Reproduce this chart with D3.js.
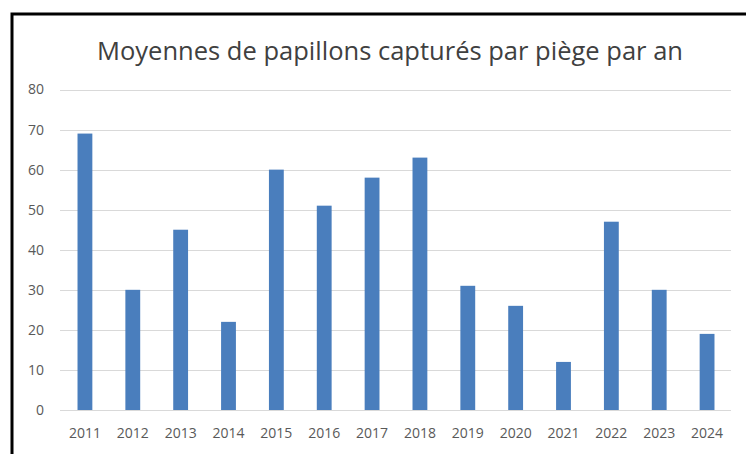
<!DOCTYPE html>
<html><head><meta charset="utf-8">
<script src="https://cdn.jsdelivr.net/npm/d3@7"></script>
<style>html,body{margin:0;padding:0;background:#fff;}svg{display:block;}</style>
</head><body>
<svg id="chart" width="746" height="454"></svg>
<script>
const title = "Moyennes de papillons capturés par piège par an";
const years = ["2011","2012","2013","2014","2015","2016","2017","2018","2019","2020","2021","2022","2023","2024"];
const values = [69,30,45,22,60,51,58,63,31,26,12,47,30,19];
const yTicks = [0,10,20,30,40,50,60,70,80];

const svg = d3.select("#chart");
const font = "'Open Sans', 'Liberation Sans', sans-serif";

// frame (right and bottom edges fall outside the picture)
svg.append("rect").attr("x", 12).attr("y", 14).attr("width", 760).attr("height", 480)
  .attr("fill", "#fff").attr("stroke", "#000").attr("stroke-width", 3);

const x = d3.scaleBand().domain(years).range([61, 731]).paddingInner(0.69).paddingOuter(0.345);
const y = d3.scaleLinear().domain([0, 80]).range([410, 89.5]);

// gridlines
svg.append("g").selectAll("line").data(yTicks).join("line")
  .attr("x1", 60).attr("x2", 731)
  .attr("y1", d => Math.round(y(d)) + 0.5).attr("y2", d => Math.round(y(d)) + 0.5)
  .attr("stroke", "#d9d9d9").attr("stroke-width", 1);

// y axis labels
const yAxis = d3.axisLeft(y).tickValues(yTicks).tickSize(0).tickPadding(0);
const ya = svg.append("g").attr("transform", "translate(44,0)").call(yAxis);
ya.select(".domain").remove();
ya.selectAll("text").attr("font-family", font).attr("font-size", 14).attr("fill", "#595959");

// bars
svg.append("g").selectAll("rect").data(values).join("rect")
  .attr("x", (d, i) => x(years[i]))
  .attr("width", x.bandwidth())
  .attr("y", d => y(d))
  .attr("height", d => y(0) - y(d))
  .attr("fill", "#4a7ebd");

// x axis labels
const xAxis = d3.axisBottom(x).tickSize(0).tickPadding(0);
const xa = svg.append("g").attr("transform", "translate(0,428)").call(xAxis);
xa.select(".domain").remove();
xa.selectAll("text").attr("font-family", font).attr("font-size", 14).attr("fill", "#595959").attr("dy", "0.71em");

// title
svg.append("text").attr("x", 390).attr("y", 60).attr("text-anchor", "middle")
  .attr("font-family", font).attr("font-size", 25).attr("fill", "#404040")
  .attr("textLength", 586).attr("lengthAdjust", "spacingAndGlyphs")
  .text(title);
</script>
</body></html>
